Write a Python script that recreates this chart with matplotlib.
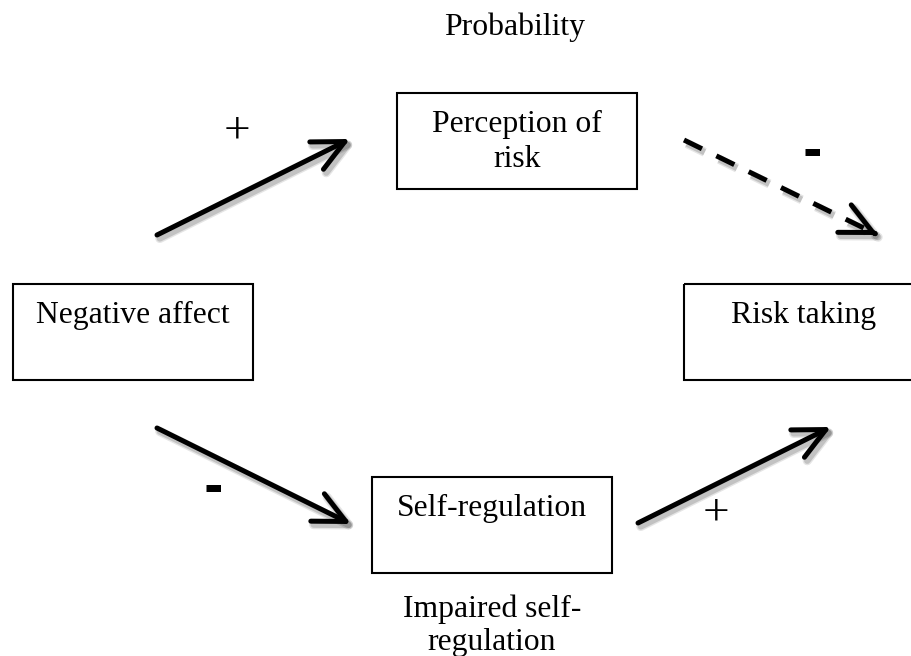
import matplotlib
matplotlib.use("Agg")
import matplotlib.pyplot as plt
from matplotlib.patches import Rectangle, FancyArrowPatch, ArrowStyle
import matplotlib.patheffects as pe
import numpy as np

# boxes of the path model
box_lines = [["Negative affect"], ["Perception of", "risk"], ["Self-regulation"], ["Risk taking"]]
box_x = [13, 397, 372, 684]
box_y = [284, 93, 477, 284]
box_w = 240
box_h = 96

# free labels (text, x, baseline)
free_text = ["Probability", "Impaired self-", "regulation"]
free_x = [515, 492, 492]
free_y = [35, 617, 650]

# paths between boxes
arrow_start = [(157, 235), (684, 140), (157, 428), (638, 523)]
arrow_end = [(350, 139), (878, 235), (351, 524), (831, 427)]
arrow_dashed = [False, True, False, False]
signs = ["+", "-", "-", "+"]
sign_x = [237, 812, 213, 716]
sign_y = [130, 153, 489, 513]

serif = "Liberation Serif"
fs = 22.8
lw = 3.6

fig = plt.figure(figsize=(9.12, 6.56), dpi=100)
ax = fig.add_axes([0, 0, 1, 1])
ax.set_xlim(0, 912)
ax.set_ylim(656, 0)
ax.axis("off")

for lines, x, y in zip(box_lines, box_x, box_y):
    ax.add_patch(Rectangle((x, y), box_w, box_h, fill=False, ec="black", lw=1.5))
    for i, t in enumerate(lines):
        ax.text(x + box_w / 2, y + 39 + i * 35, t, ha="center", va="baseline",
                family=serif, fontsize=fs)

for t, x, y in zip(free_text, free_x, free_y):
    ax.text(x, y, t, ha="center", va="baseline", family=serif, fontsize=fs)

shadow = [pe.SimpleLineShadow(offset=(2.0, -2.5), shadow_color="k", alpha=0.10, linewidth=lw + 3),
          pe.SimpleLineShadow(offset=(2.0, -2.5), shadow_color="k", alpha=0.15, linewidth=lw + 1),
          pe.Normal()]
head = ArrowStyle("->", head_length=22.7, head_width=11)

for p0, p1, dashed in zip(arrow_start, arrow_end, arrow_dashed):
    if dashed:
        ax.plot([p0[0], p1[0]], [p0[1], p1[1]], color="black", lw=lw,
                dashes=(4, 3.2), dash_capstyle="butt", path_effects=shadow)
        d = np.array(p1, float) - np.array(p0, float)
        d = d / np.hypot(*d)
        q0 = (p1[0] - 3 * d[0], p1[1] - 3 * d[1])
        a = FancyArrowPatch(q0, p1, arrowstyle=head, mutation_scale=1, lw=lw,
                            color="black", shrinkA=0, shrinkB=0,
                            capstyle="round", joinstyle="round", path_effects=shadow)
    else:
        a = FancyArrowPatch(p0, p1, arrowstyle=head, mutation_scale=1, lw=lw,
                            color="black", shrinkA=0, shrinkB=0,
                            capstyle="round", joinstyle="round", path_effects=shadow)
    ax.add_patch(a)

for s, x, y in zip(signs, sign_x, sign_y):
    if s == "+":
        ax.text(x, y + 12, s, ha="center", va="baseline", family=serif, fontsize=34)
    else:
        ax.text(x, y, s, ha="center", va="center", family="DejaVu Sans",
                fontweight="bold", fontsize=34)

fig.savefig("out.png", dpi=100)
